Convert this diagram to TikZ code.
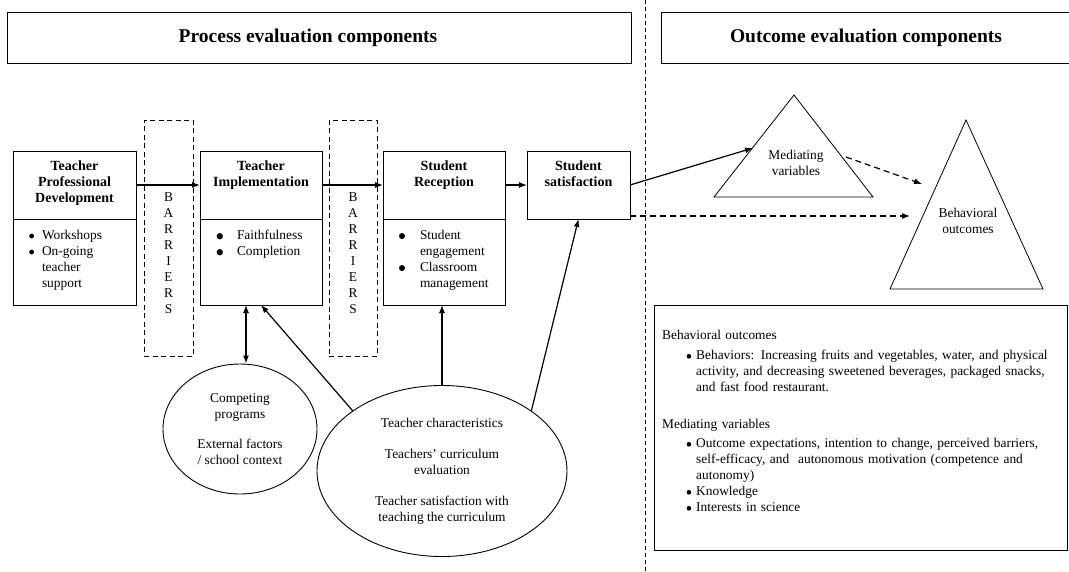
\documentclass[tikz,border=0pt]{standalone}
\usepackage{fontspec}
\setmainfont{Liberation Serif}
\usetikzlibrary{positioning,shapes.geometric,arrows.meta}
\tikzset{>={Latex[length=8pt,width=6pt]}}
\tikzset{
  titlebox/.style = {draw, line width=1pt, inner sep=0pt, outer sep=0pt,
    minimum height=51pt, font=\fontsize{19.5}{22}\selectfont\bfseries},
  stepbox/.style = {draw, line width=1pt, inner sep=0pt, outer sep=0pt},
  barrier/.style = {draw, line width=0.9pt, dash pattern=on 5pt off 3.5pt,
    minimum height=236pt, inner sep=0pt},
  letters/.style = {align=center, inner sep=0pt, font=\fontsize{13.4}{16}\selectfont},
  oval/.style = {draw, ellipse, line width=0.9pt, inner sep=0pt, align=center,
    font=\fontsize{13.4}{16}\selectfont},
  tri/.style = {draw, line width=0.8pt, line join=miter},
  trilabel/.style = {align=center, inner sep=0pt, font=\fontsize{13.4}{15.5}\selectfont},
  link/.style = {->, line width=1.2pt},
  dashlink/.style = {->, line width=1.2pt, dash pattern=on 6pt off 4pt},
  divider/.style = {line width=0.8pt, dash pattern=on 4pt off 3pt}
}
\newcommand{\blob}[1]{\tikz[baseline={(0,-3.2pt)}]\fill (0,0) circle (#1);}
\newenvironment{dotlist}[3]{\raggedright\begin{list}{\blob{#3}}{%
  \setlength{\leftmargin}{#1}\setlength{\labelsep}{#2}%
  \setlength{\labelwidth}{\dimexpr#1-#2\relax}\setlength{\itemindent}{0pt}%
  \setlength{\topsep}{0pt}\setlength{\partopsep}{0pt}%
  \setlength{\itemsep}{0pt}\setlength{\parsep}{0pt}}}{\end{list}}
\newcommand{\steptitle}[3]{\parbox[c][#1][t]{#2}{\centering
  \fontsize{14}{16}\bfseries\selectfont\vspace{10pt}#3\par}}
\newcommand{\stepitems}[5]{\parbox[c][86pt][t]{#1}{%
  \fontsize{13.4}{16}\selectfont\vspace{11pt}\begin{dotlist}{#2}{#3}{#4}#5\end{dotlist}}}

\begin{document}
\begin{tikzpicture}[x=1pt,y=-1pt]
    \useasboundingbox (0,0) rectangle (1069,571);
    \node[titlebox, minimum width=624pt] (proctitle) at (319,37.5) {Process evaluation components\hspace*{22pt}};
    \node[titlebox, minimum width=410pt] (outtitle) at (866,37.5) {Outcome evaluation components};
    \draw[divider] (645,0) -- (645,571);

    \node[stepbox] (pdh) at (74.5,185) {\steptitle{68pt}{123pt}{Teacher\\Professional\\Development}};
    \node[stepbox, below=0pt of pdh] (pdb) {\stepitems{123pt}{29pt}{8pt}{2.4pt}{\item Workshops
      \item On-going\newline teacher\newline support}};
    \node[stepbox] (tih) at (261,185) {\steptitle{68pt}{122pt}{Teacher\\Implementation}};
    \node[stepbox, below=0pt of tih] (tib) {\stepitems{122pt}{37pt}{14pt}{3.2pt}{\item Faithfulness
      \item Completion}};
    \node[stepbox] (srh) at (444,185) {\steptitle{68pt}{122pt}{Student\\Reception}};
    \node[stepbox, below=0pt of srh] (srb) {\stepitems{122pt}{37pt}{15pt}{3pt}{\item Student\newline engagement
      \item Classroom\newline management}};
    \node[stepbox] (ss) at (578.5,185) {\steptitle{68pt}{103pt}{Student\\satisfaction}};

    \node[barrier, minimum width=49pt] (bar1) at (168.5,238) {};
    \node[letters] (bar1txt) at (168.5,253.5) {B\\A\\R\\R\\I\\E\\R\\S};
    \node[barrier, minimum width=48pt] (bar2) at (353,238) {};
    \node[letters] (bar2txt) at (353,253.5) {B\\A\\R\\R\\I\\E\\R\\S};

    \node[oval, minimum width=154pt, minimum height=130pt] (comp) at (240,429)
      {Competing\\programs\\[14pt]External factors\\/ school context};
    \node[oval, minimum width=250pt, minimum height=171pt] (tchar) at (442,471)
      {Teacher characteristics\\[15pt]Teachers' curriculum\\evaluation\\[15pt]Teacher satisfaction with\\teaching the curriculum};

    \draw[tri] (794,95) -- (873,197) -- (714,197) -- cycle;
    \node[trilabel] (medtext) at (796,163) {Mediating\\variables};
    \draw[tri] (966,120) -- (1043,289) -- (890,289) -- cycle;
    \node[trilabel] (behtext) at (968,221) {Behavioral\\outcomes};
    \coordinate (medin) at (753,148);
    \coordinate (medout) at (846,157);
    \coordinate (behin) at (922,184);
    \coordinate (behin2) at (910,216);
    \coordinate (ssout) at ([yshift=-31pt]ss.east);

    \draw[link] (pdh.east) -- (tih.west);
    \draw[link] (tih.east) -- (srh.west);
    \draw[link] (srh.east) -- (ss.west);
    \draw[link] (ss.east) -- (medin);
    \draw[dashlink] (medout) -- (behin);
    \draw[dashlink] (ssout) -- (behin2);
    \draw[<->, line width=1.2pt] ([xshift=6pt]comp.north) -- ([xshift=6pt]comp.north |- tib.south);
    \draw[link] (tchar.146) -- (tib.south);
    \draw[link] (tchar.north) -- (tchar.north |- srb.south);
    \draw[link] (tchar.34) -- (ss.south);

    \node[stepbox, minimum width=413pt, minimum height=245pt] (outbox) at (860.5,427.5) {};
    \node[anchor=north west, inner sep=0pt, text width=400pt, font=\fontsize{13.4}{16}\selectfont] (outtext) at (662,330)
      {Behavioral outcomes\par\vspace{4pt}
       \begin{dotlist}{34pt}{5pt}{2.3pt}
       \item Behaviors: Increasing fruits and vegetables, water, and physical\newline
         activity, and decreasing sweetened beverages, packaged snacks,\newline
         and fast food restaurant.
       \end{dotlist}\par\vspace{21pt}
       Mediating variables\par\vspace{3pt}
       \begin{dotlist}{34pt}{5pt}{2.3pt}
       \item Outcome expectations, intention to change, perceived barriers,\newline
         self-efficacy, and\ \ autonomous motivation (competence and\newline
         autonomy)
       \item Knowledge
       \item Interests in science
       \end{dotlist}};
\end{tikzpicture}
\end{document}
